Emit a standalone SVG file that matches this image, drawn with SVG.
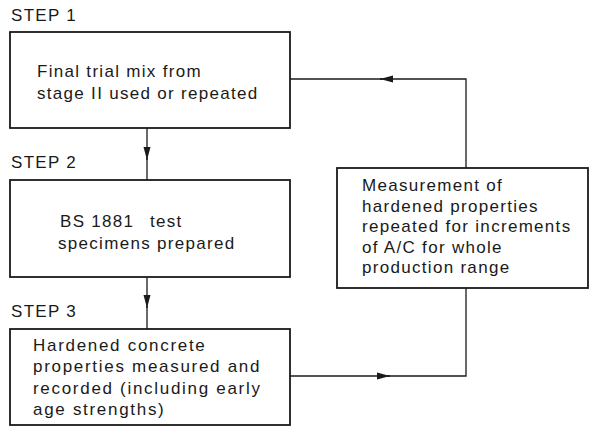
<svg xmlns="http://www.w3.org/2000/svg" width="590" height="430" viewBox="0 0 590 430">
<defs>
<marker id="ah" markerUnits="userSpaceOnUse" markerWidth="14" markerHeight="8" refX="13" refY="4" orient="auto">
<path d="M0,0.5 L13,4 L0,7.5 z" fill="#1a1a1a"/>
</marker>
</defs>
<style>
.box{fill:#fff;stroke:#1a1a1a;stroke-width:1.8}
.t{font-family:"Liberation Sans",Arial,sans-serif;font-size:17px;letter-spacing:1.3px;fill:#1a1a1a}
.w{letter-spacing:1.7px}
.c{fill:none;stroke:#1a1a1a;stroke-width:1.3}
</style>
<rect width="590" height="430" fill="#fff"/>
<g id="connectors">
<path class="c" d="M147 128 V160" marker-end="url(#ah)"/>
<path class="c" d="M147 158 V180"/>
<path class="c" d="M147 277 V308" marker-end="url(#ah)"/>
<path class="c" d="M147 306 V329"/>
<path class="c" d="M290 376 H390" marker-end="url(#ah)"/>
<path class="c" d="M388 376 H466 V288"/>
<path class="c" d="M466 168 V79 H380" marker-end="url(#ah)"/>
<path class="c" d="M382 79 H290"/>
</g>
<g id="step1">
<text class="t" x="11" y="20.5">STEP 1</text>
<rect class="box" x="10" y="32" width="280" height="96"/>
<text class="t" x="37" y="76.5">Final trial mix from</text>
<text class="t" x="37" y="98.5">stage II used or repeated</text>
</g>
<g id="step2">
<text class="t" x="11" y="168">STEP 2</text>
<rect class="box" x="10" y="180" width="280" height="97"/>
<text class="t" x="60" y="227">BS 1881<tspan x="150">test</tspan></text>
<text class="t" x="58" y="248.5">specimens prepared</text>
</g>
<g id="step3">
<text class="t" x="11" y="317">STEP 3</text>
<rect class="box" x="10" y="329" width="280" height="96"/>
<text class="t w" x="33" y="350.5">Hardened concrete</text>
<text class="t w" x="33" y="372">properties measured and</text>
<text class="t w" x="33" y="393.5">recorded (including early</text>
<text class="t w" x="33" y="415">age strengths)</text>
</g>
<g id="repeat">
<rect class="box" x="337" y="168" width="251" height="120"/>
<text class="t" x="362" y="191">Measurement of</text>
<text class="t" x="362" y="211.5">hardened properties</text>
<text class="t" x="362" y="232">repeated for increments</text>
<text class="t" x="362" y="252.5">of A/C for whole</text>
<text class="t" x="362" y="273">production range</text>
</g>
</svg>
